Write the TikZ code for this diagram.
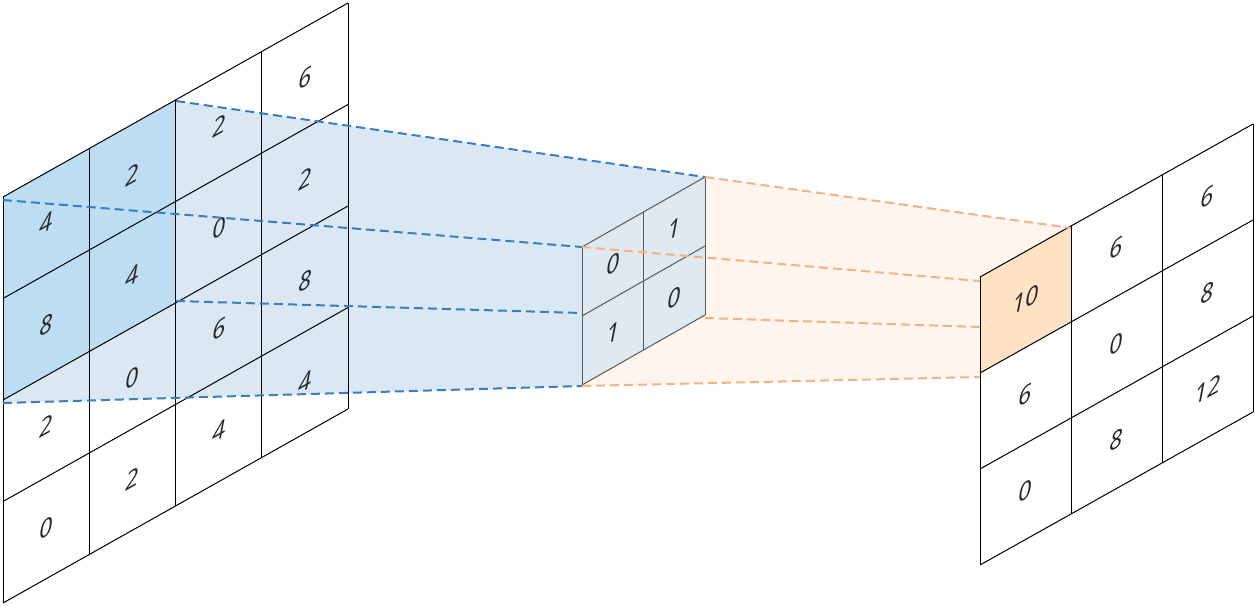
\documentclass[tikz,border=0pt]{standalone}
\usepackage{fontspec}
\newfontfamily\digitfont{Open Sans}
\definecolor{blueD}{HTML}{BDDDF3}
\definecolor{blueL}{HTML}{DAE8F4}
\definecolor{kern}{HTML}{DFE9F1}
\definecolor{blueLine}{HTML}{3A7DC0}
\definecolor{orL}{HTML}{FEF5EE}
\definecolor{orC}{HTML}{FFE2C4}
\definecolor{orLine}{HTML}{F4B183}
\begin{document}
\begin{tikzpicture}[x=1pt,y=-1pt,
  grid/.style={line width=1pt,black},
  kgrid/.style={line width=1pt,black!65},
  bdash/.style={blueLine,line width=2pt,dash pattern=on 9pt off 5pt},
  odash/.style={orLine,line width=2pt,dash pattern=on 9pt off 5pt},
  num/.style={font=\digitfont\itshape\fontsize{24}{24}\selectfont,transform shape,yslant=0.56,inner sep=0pt,text=black!85}]
\useasboundingbox (0,0) rectangle (1255,607);
% key corners
\coordinate (L00) at (3,197);
\coordinate (L20) at (176,101);
\coordinate (L01) at (3,200);
\coordinate (L22) at (176,301);
\coordinate (L03) at (3,403);
\coordinate (K00) at (582,247);
\coordinate (K20) at (705,177);
\coordinate (K22) at (705,318);
\coordinate (K02) at (582,386);
\coordinate (O00) at (980,281);
\coordinate (O10) at (1071,228);
\coordinate (O02) at (980,327);
\coordinate (O01) at (980,377);
% light blue projection
\fill[blueL] (L00) -- (L20) -- (K20) -- (K22) -- (K02) -- (L03) -- cycle;
% dark cells
\fill[blueD] (3,197) -- (176,100) -- (176,303) -- (3,400) -- cycle;
% left grid
\foreach \c in {0,...,4}
  \draw[grid] ({3+86.25*\c},{197-48.5*\c}) -- ({3+86.25*\c},{603-48.5*\c});
\foreach \r in {0,...,4}
  \draw[grid] (3,{197+101.5*\r}) -- (348,{3+101.5*\r});
\foreach \col [count=\c from 0] in {{4,8,2,0},{2,4,0,2},{2,0,6,4},{6,2,8,4}}
  \foreach \v [count=\r from 0] in \col
    \node[num] (l\c\r) at ({3+86.25*(\c+0.5)},{197-48.5*(\c+0.5)+101.5*(\r+0.5)}) {\v};
% blue dashes
\draw[bdash] (L20) -- (K20);
\draw[bdash] (L01) -- (K00);
\draw[bdash] (L22) -- (582,313);
\draw[bdash] (L03) -- (K02);
% orange projection
\fill[orL] (K00) -- (K20) -- (O10) -- (O01) -- (K02) -- cycle;
% kernel
\fill[kern] (582,247) -- (705,177) -- (705,315) -- (582,385) -- cycle;
\foreach \c in {0,1,2}
  \draw[kgrid] ({582+61.5*\c},{247-35*\c}) -- ({582+61.5*\c},{385-35*\c});
\foreach \r in {0,1,2}
  \draw[kgrid] (582,{247+69*\r}) -- (705,{177+69*\r});
\foreach \col [count=\c from 0] in {{0,1},{1,0}}
  \foreach \v [count=\r from 0] in \col
    \node[num,yslant=0.01] (k\c\r) at ({582+61.5*(\c+0.5)},{247-35*(\c+0.5)+69*(\r+0.5)}) {\v};
% output
\fill[orC] (980,277) -- (1071,226) -- (1071,322) -- (980,373) -- cycle;
\foreach \c in {0,...,3}
  \draw[grid] ({980+91*\c},{277-51*\c}) -- ({980+91*\c},{565-51*\c});
\foreach \r in {0,...,3}
  \draw[grid] (980,{277+96*\r}) -- (1253,{124+96*\r});
\foreach \col [count=\c from 0] in {{10,6,0},{6,0,8},{6,8,12}}
  \foreach \v [count=\r from 0] in \col
    \node[num] (o\c\r) at ({980+91*(\c+0.5)},{277-51*(\c+0.5)+96*(\r+0.5)}) {\v};
% orange dashes
\draw[odash] (K20) -- (O10);
\draw[odash] (K00) -- (O00);
\draw[odash] (K22) -- (O02);
\draw[odash] (K02) -- (O01);
\end{tikzpicture}
\end{document}
